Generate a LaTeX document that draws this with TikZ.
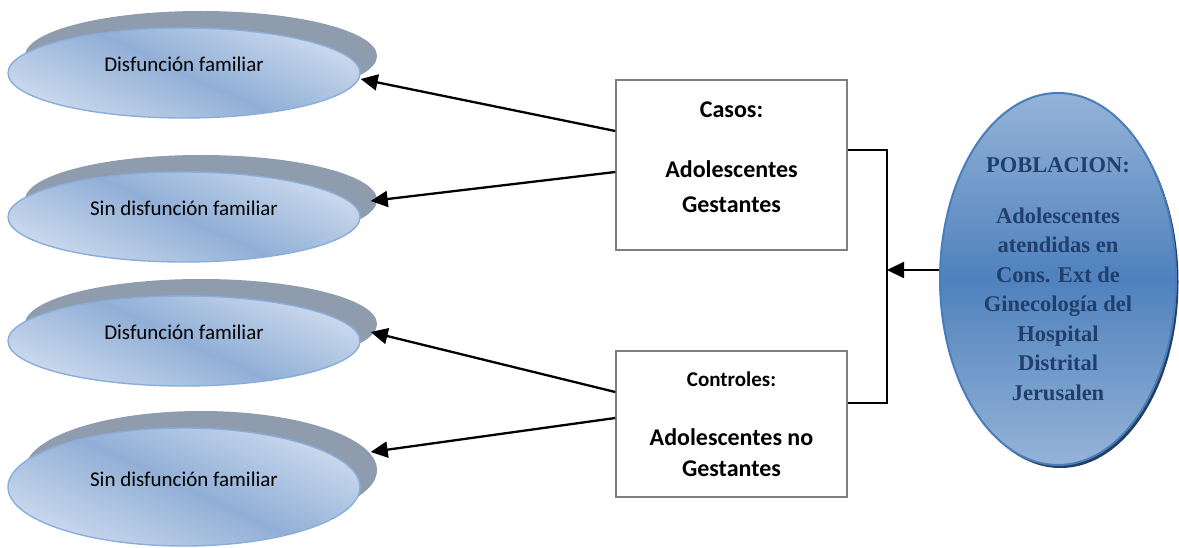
\documentclass[tikz,border=0pt]{standalone}
\usepackage{fontspec}
\setmainfont{Carlito}
\newfontfamily\serifb{Liberation Serif}
\usetikzlibrary{shapes.geometric,shadows,arrows.meta}
\definecolor{ellLight}{HTML}{CAD9ED}
\definecolor{ellMid}{HTML}{91AFD6}
\definecolor{ellBorder}{HTML}{8AAEDC}
\definecolor{shadowGray}{HTML}{8F9CAE}
\definecolor{bigPale}{HTML}{95B3D7}
\definecolor{bigMid}{HTML}{4F81BD}
\definecolor{bigBorder}{HTML}{4A7DBB}
\definecolor{bigShadow}{HTML}{243F60}
\definecolor{bigText}{HTML}{203F6C}
\definecolor{boxBorder}{HTML}{7F7F7F}
\begin{document}
\begin{tikzpicture}[x=1pt,y=-1pt,
  oval/.style={ellipse, draw=ellBorder, line width=1.4pt, minimum width=352pt,
    minimum height=90pt, inner sep=0pt,
    top color=ellLight, bottom color=ellLight, middle color=ellMid, shading angle=-25,
    drop shadow={shadow xshift=17pt, shadow yshift=17pt, fill=shadowGray, opacity=1},
    font=\fontsize{21}{25}\selectfont, text height=6pt, text depth=8pt},
  stepbox/.style={draw=boxBorder, line width=1.5pt, fill=white, minimum width=231pt,
    inner sep=0pt, align=center},
  arr/.style={line width=2.3pt, -{Triangle[length=17pt,width=16pt]}},
  elbow/.style={line width=1.6pt},
  pobstyle/.style={ellipse, draw=bigBorder, line width=2pt, minimum width=236pt,
    minimum height=372pt, inner sep=0pt, align=center,
    top color=bigPale, bottom color=bigPale, middle color=bigMid,
    drop shadow={shadow xshift=2.5pt, shadow yshift=-3pt, fill=bigShadow, opacity=1},
    text=bigText, font=\serifb\bfseries\fontsize{22.5}{29.5}\selectfont}
]
\useasboundingbox (0,0) rectangle (1179,548);

% ellipses on the left
\node[oval] (e1) at (184,73)  {Disfunción familiar};
\node[oval] (e2) at (184,217) {Sin disfunción familiar};
\node[oval] (e3) at (184,341) {Disfunción familiar};
\node[oval, minimum height=118pt] (e4) at (184,487) {Sin disfunción familiar};

% boxes
\node[stepbox, minimum height=170pt,
  label={[yshift=8pt, align=center, font=\bfseries\fontsize{24}{35}\selectfont]center:{Casos:\\[25pt]Adolescentes\\Gestantes}}]
  (casos) at (731.5,165) {};
\node[stepbox, minimum height=146pt, font=\bfseries\fontsize{24}{31}\selectfont]
  (controles) at (731.5,424)
  {{\fontsize{21}{31}\selectfont Controles:}\\[28pt]Adolescentes no\\Gestantes};

% population ellipse
\node[pobstyle] (pob) at (1058,279)
  {POBLACION:\\[21pt]Adolescentes\\atendidas en\\Cons. Ext de\\Ginecología del\\Hospital\\Distrital\\Jerusalen};

% connectors
\coordinate (j) at (887,270);
\draw[elbow] ([yshift=15pt]casos.east) -| (j) |- ([yshift=21pt]controles.east);
\draw[arr] ([yshift=9pt]pob.west) -- (j);

\draw[arr] ([yshift=34pt]casos.west) -- ([yshift=-6pt]e1.east);
\draw[arr] ([yshift=-7pt]casos.west) -- ([xshift=10pt,yshift=16pt]e2.east);
\draw[arr] ([yshift=32pt]controles.west) -- ([xshift=10pt,yshift=9pt]e3.east);
\draw[arr] ([yshift=6pt]controles.west) -- ([xshift=10pt,yshift=35pt]e4.east);
\end{tikzpicture}
\end{document}
